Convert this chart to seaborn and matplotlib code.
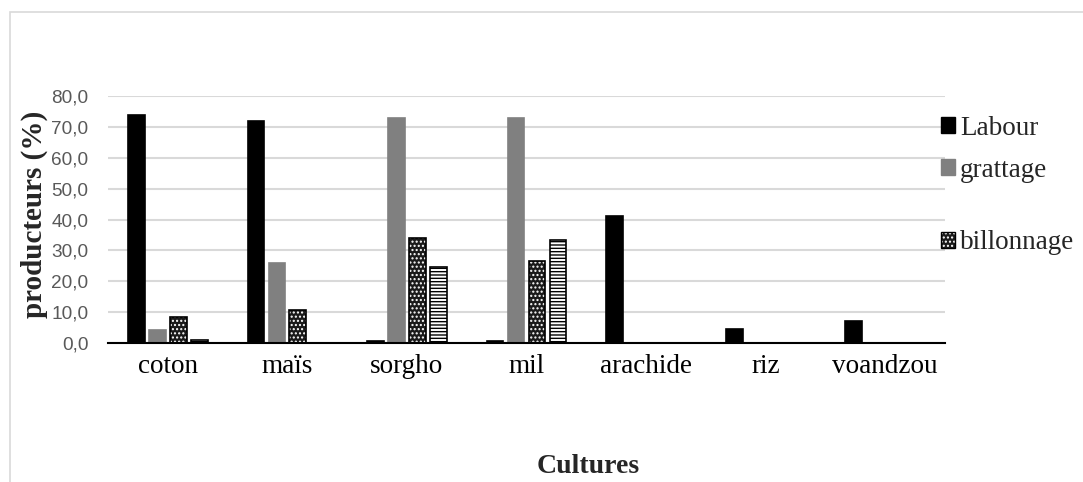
import numpy as np
import pandas as pd
import seaborn as sns
import matplotlib.pyplot as plt
from matplotlib.patches import Patch, Rectangle

cultures = ["coton", "maïs", "sorgho", "mil", "arachide", "riz", "voandzou"]
labour = [74.0, 72.0, 0.8, 0.8, 41.0, 4.4, 7.2]
grattage = [4.2, 26.0, 73.0, 73.0, 0.0, 0.0, 0.0]
billonnage = [8.5, 10.6, 34.0, 26.7, 0.0, 0.0, 0.0]
autre = [1.0, 0.0, 24.5, 33.3, 0.0, 0.0, 0.0]
series_names = ["Labour", "grattage", "billonnage", "autre"]
yticks = [0, 10, 20, 30, 40, 50, 60, 70, 80]

rows = []
for name, vals in zip(series_names, [labour, grattage, billonnage, autre]):
    for c, v in zip(cultures, vals):
        rows.append({"culture": c, "serie": name, "val": v})
df = pd.DataFrame(rows)

sns.set_theme(style="white")
plt.rcParams['font.family'] = ['Liberation Serif', 'DejaVu Serif']
plt.rcParams['hatch.linewidth'] = 1.0

fig = plt.figure(figsize=(10.83, 4.82), dpi=100)
ax = fig.add_axes([0.0997, 0.2884, 0.7729, 0.5124])

sns.barplot(data=df, x="culture", y="val", hue="serie", order=cultures,
            hue_order=series_names, palette=["black", "#808080", "white", "white"],
            width=0.7, gap=0.2, saturation=1, legend=False, ax=ax, errorbar=None)

styles = {
    "Labour": dict(fc="black", ec="black", hatch=None),
    "grattage": dict(fc="#808080", ec="#808080", hatch=None),
    "billonnage": dict(fc="#1a1a1a", ec="black", hatch="...."),
    "autre": dict(fc="white", ec="black", hatch="-----"),
}
n = len(cultures)
for i, name in enumerate(series_names):
    st = styles[name]
    for p in ax.patches[i * n:(i + 1) * n]:
        p.set_facecolor(st["fc"])
        p.set_edgecolor(st["ec"])
        p.set_linewidth(1.2)
        if st["hatch"]:
            p.set_hatch(st["hatch"])
for p in ax.patches[2 * n:3 * n]:
    p._hatch_color = (1, 1, 1, 1)
for p in ax.patches[3 * n:4 * n]:
    p._hatch_color = (0, 0, 0, 1)

ax.set_ylim(0, 80)
ax.set_xlim(-0.5, n - 0.5)
ax.set_yticks(yticks)
ax.set_yticklabels([f"{v:.1f}".replace(".", ",") for v in yticks],
                   family="Liberation Sans", color="#595959", fontsize=13.7)
ax.yaxis.grid(True, color="#d9d9d9", linewidth=1.5)
ax.set_axisbelow(True)
for s in ["top", "right", "left"]:
    ax.spines[s].set_visible(False)
ax.spines["bottom"].set_color("black")
ax.spines["bottom"].set_linewidth(1.5)
ax.tick_params(axis="y", length=0, pad=14)
ax.tick_params(axis="x", length=0, pad=8, labelsize=19.5, colors="black")

ax.set_xlabel("")
ax.set_ylabel("producteurs (%)", fontsize=21, fontweight="bold")
ax.yaxis.set_label_coords(-0.072, 0.52)
fig.text(0.543, 0.033, "Cultures", fontsize=20, fontweight="bold",
         ha="center", va="center")

# legends (only three entries visible in reference)
leg_y = [0.734, 0.647, 0.496]
for k, name in enumerate(series_names[:3]):
    st = styles[name]
    h = Patch(facecolor=st["fc"], edgecolor=st["ec"], hatch=st["hatch"])
    leg = fig.legend(handles=[h], labels=[name], loc="center left",
                     bbox_to_anchor=(0.869, leg_y[k]), frameon=False,
                     fontsize=19.5, handlelength=0.5, handleheight=0.5,
                     handletextpad=0.2, borderpad=0, borderaxespad=0)
    if name == "billonnage":
        leg.legend_handles[0]._hatch_color = (1, 1, 1, 1)

# outer chart frame
fig.add_artist(Rectangle((0.009, -0.05), 1.2, 1.025, transform=fig.transFigure,
                         fill=False, edgecolor="#d9d9d9", linewidth=1.2))

fig.savefig("out.png", dpi=100, facecolor="white")
